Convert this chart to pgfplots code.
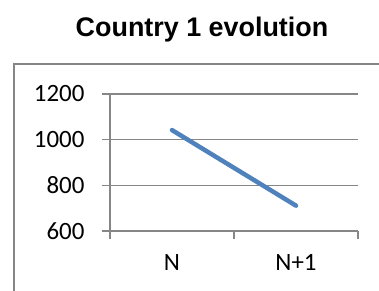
\documentclass[border=0pt]{standalone}
\usepackage{pgfplots}
\pgfplotsset{compat=1.18}
\usepackage{fontspec}
\setmainfont{Carlito}
\newfontfamily\titlefont{Liberation Sans}
\definecolor{gridgray}{RGB}{134,134,134}
\definecolor{xlblue}{RGB}{79,129,189}
\begin{document}
\begin{tikzpicture}[x=1bp,y=1bp]
\useasboundingbox (0,0) rectangle (379,291);
\draw[gridgray, line width=1.2bp] (14,-2) -- (14,227) -- (381,227);
\node[font=\titlefont\bfseries\fontsize{27}{32}\selectfont, anchor=base] at (202,255) {Country 1 evolution};
\begin{axis}[
  scale only axis,
  anchor=south west,
  at={(110bp,60bp)},
  width=248bp, height=137bp,
  xmin=0, xmax=2, ymin=600, ymax=1200,
  ytick={600,800,1000,1200},
  xtick={0,1,2},
  xticklabels={N,N+1},
  x tick label as interval,
  axis lines=left,
  axis line style={-, gridgray, line width=1.2bp},
  ymajorgrids,
  grid style={gridgray, line width=1.2bp},
  tick align=outside,
  major tick length=8bp,
  tick style={gridgray, line width=1.2bp},
  tick label style={font=\fontsize{25}{30}\selectfont},
  /pgf/number format/assume math mode=true,
  /pgf/number format/1000 sep={},
  yticklabel style={xshift=-14bp},
  xticklabel style={yshift=-12bp},
  clip=false,
]
\addplot[xlblue, line width=4.5bp, line cap=round] coordinates {(0.5,1042) (1.5,711)};
\end{axis}
\end{tikzpicture}
\end{document}
